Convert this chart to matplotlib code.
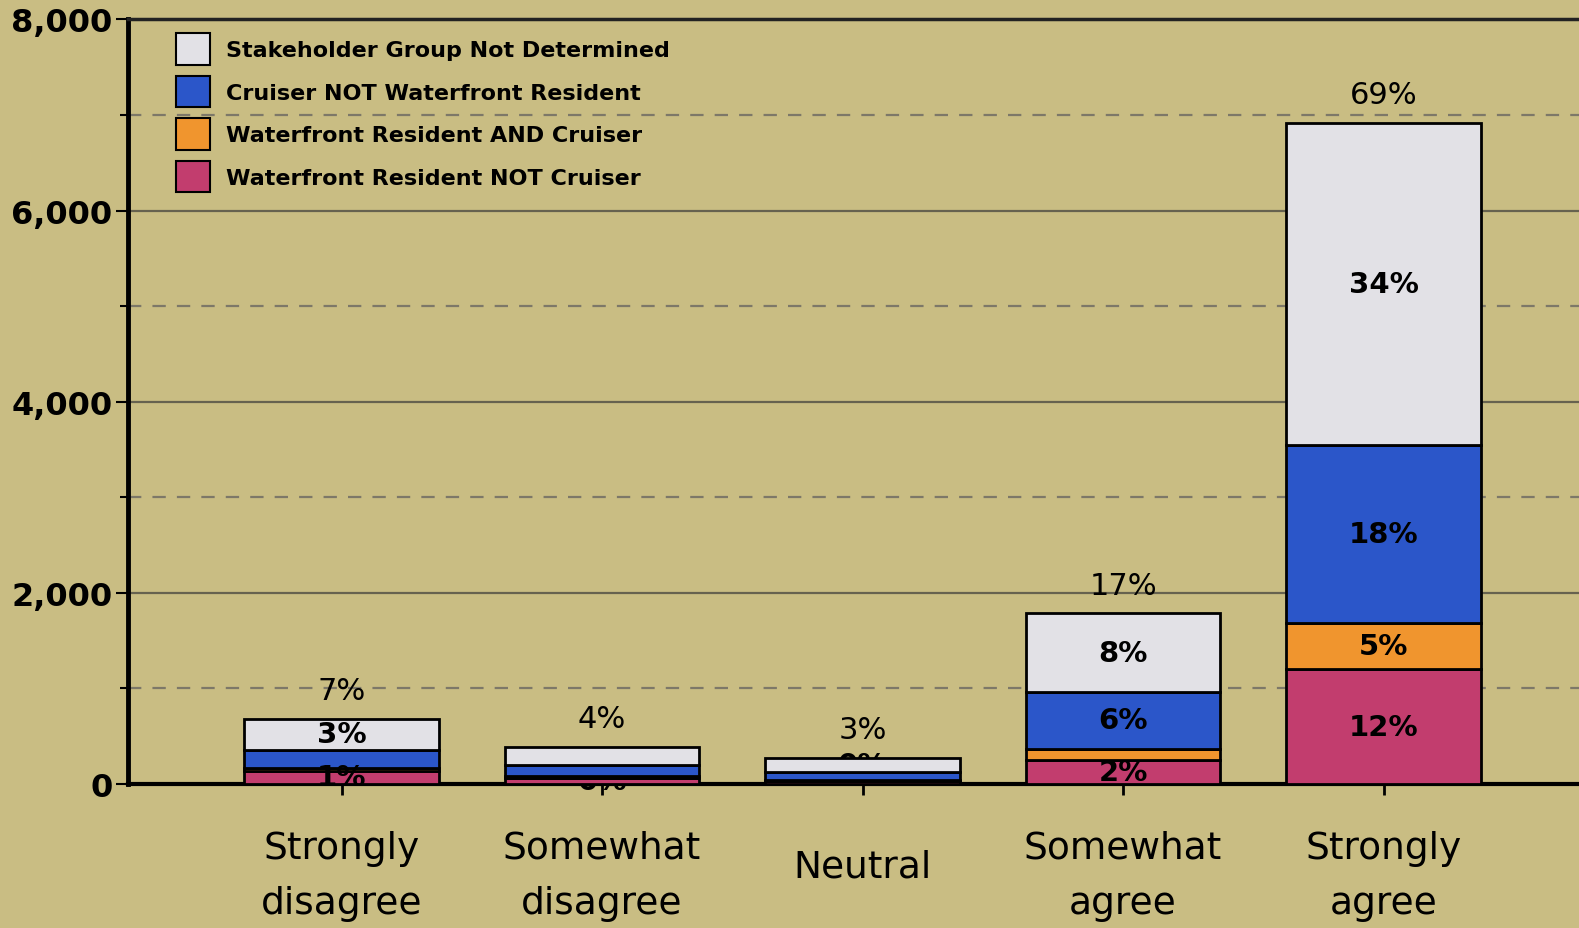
import numpy as np
import matplotlib.pyplot as plt
from matplotlib.patches import Patch
from matplotlib.transforms import ScaledTranslation

categories = ["Strongly\ndisagree", "Somewhat\ndisagree", "Neutral", "Somewhat\nagree", "Strongly\nagree"]
series_names = ["Waterfront Resident NOT Cruiser", "Waterfront Resident AND Cruiser",
                "Cruiser NOT Waterfront Resident", "Stakeholder Group Not Determined"]
not_cruiser = [137, 60, 30, 250, 1200]
res_and_cruiser = [30, 22, 10, 115, 485]
cruiser_only = [190, 115, 84, 600, 1860]
undetermined = [325, 190, 146, 820, 3370]
total_labels = ["7%", "4%", "3%", "17%", "69%"]
not_cruiser_labels = ["1%", "0%", "", "2%", "12%"]
res_and_cruiser_labels = ["", "", "", "", "5%"]
cruiser_only_labels = ["", "", "", "6%", "18%"]
undetermined_labels = ["3%", "", "0%", "8%", "34%"]

bg = "#c9bd83"
colors = ["#c23d6e", "#f0952e", "#2b56c9", "#e2e1e6"]

plt.rcParams['font.family'] = ['DejaVu Sans']
fig = plt.figure(figsize=(15.79, 9.29), dpi=100, facecolor=bg)
ax = fig.add_axes([0.081, 0.155, 0.919, 0.823])
ax.set_facecolor(bg)

x = np.arange(len(categories))
w = 0.747
series = [not_cruiser, res_and_cruiser, cruiser_only, undetermined]
seg_labels = [not_cruiser_labels, res_and_cruiser_labels, cruiser_only_labels, undetermined_labels]
bottom = np.zeros(len(categories))
for vals, col, labs in zip(series, colors, seg_labels):
    vals = np.array(vals, dtype=float)
    ax.bar(x, vals, w, bottom=bottom, color=col, edgecolor="black", linewidth=2, zorder=3)
    for i in range(len(x)):
        if labs[i]:
            z = 2 if labs[i] == "0%" else 5
            ax.text(x[i], bottom[i] + vals[i] / 2, labs[i], ha="center", va="center",
                    fontsize=21, fontweight="bold", color="black", zorder=z)
    bottom += vals

for i in range(len(x)):
    ax.annotate(total_labels[i], (x[i], bottom[i]), xytext=(0, 10), textcoords="offset points",
                ha="center", va="bottom", fontsize=22, zorder=5)

# grid: solid at even thousands, dashed at odd
for yv in [2000, 4000, 6000]:
    ax.axhline(yv, color="#66624f", linewidth=1.6, zorder=1)
for yv in [1000, 3000, 5000, 7000]:
    ax.axhline(yv, color="#7d7868", linewidth=1.6, linestyle=(0, (6, 5)), zorder=1)

ax.set_ylim(0, 8000)
ax.set_xlim(-0.82, 4.75)
ax.set_yticks([0, 2000, 4000, 6000, 8000])
ax.set_yticklabels(["0", "2,000", "4,000", "6,000", "8,000"], fontsize=23, fontweight="heavy")
ax.set_yticks([1000, 3000, 5000, 7000], minor=True)
ax.tick_params(axis="y", which="major", length=9, width=1.5, pad=2)
ax.tick_params(axis="y", which="minor", length=6, width=1.5)
ax.set_xticks(x)
ax.set_xticklabels(categories, fontsize=27, va="center", linespacing=1.7)
ax.tick_params(axis="x", length=8, width=2, pad=58)
# nudge the single-line label up a little
nl = ax.get_xticklabels()[2]
nl.set_transform(nl.get_transform() + ScaledTranslation(0, 0.09, fig.dpi_scale_trans))

ax.spines["right"].set_visible(False)
ax.spines["left"].set_linewidth(3.5)
ax.spines["bottom"].set_linewidth(3)
ax.spines["top"].set_linewidth(2.5)
ax.spines["top"].set_color("#222222")

handles = [Patch(facecolor=colors[k], edgecolor="black", linewidth=1.5) for k in [3, 2, 1, 0]]
names = [series_names[k] for k in [3, 2, 1, 0]]
leg = ax.legend(handles, names, loc="upper left", bbox_to_anchor=(0.0195, 1.008), frameon=False,
                prop={"weight": "bold", "size": 16}, handlelength=1.5, handleheight=1.8,
                labelspacing=0.5, handletextpad=0.75)

fig.savefig("out.png", dpi=100, facecolor=bg)
